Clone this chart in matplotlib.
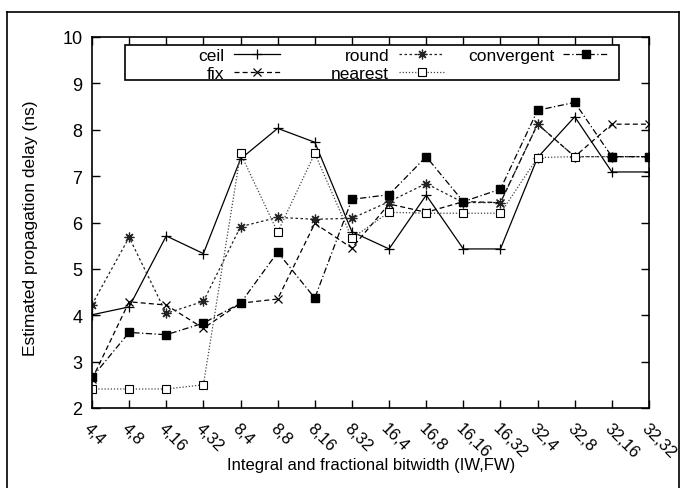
import matplotlib
matplotlib.use('Agg')
import matplotlib.pyplot as plt
from matplotlib.lines import Line2D
from matplotlib.patches import Rectangle

plt.rcParams['font.family'] = ['Liberation Sans', 'DejaVu Sans']

# IW,FW combinations on the x axis
cats = ['4,4', '4,8', '4,16', '4,32', '8,4', '8,8', '8,16', '8,32',
        '16,4', '16,8', '16,16', '16,32', '32,4', '32,8', '32,16', '32,32']

ceil_v    = [4.01, 4.18, 5.71, 5.33, 7.37, 8.03, 7.73, 5.80, 5.43, 6.59, 5.43, 5.43, 7.40, 8.28, 7.09, 7.09]
fix_v     = [2.62, 4.29, 4.22, 3.72, 4.26, 4.35, 5.98, 5.45, 6.40, 6.22, 6.45, 6.43, 8.12, 7.42, 8.12, 8.12]
round_v   = [4.23, 5.68, 4.04, 4.30, 5.91, 6.11, 6.07, 6.09, 6.45, 6.84, 6.43, 6.43, 8.12, 7.42, 7.42, 7.42]
nearest_v = [2.41, 2.41, 2.41, 2.50, 7.49, 5.79, 7.49, 5.66, 6.22, 6.20, 6.20, 6.20, 7.40, 7.42, 7.42, 7.42]
conv_v    = [2.66, 3.63, 3.58, 3.83, 4.26, 5.36, 4.37, 6.50, 6.60, 7.42, 6.45, 6.72, 8.42, 8.59, 7.42, 7.42]

W, H = 681, 489
fig = plt.figure(figsize=(W / 100, H / 100), dpi=100)
# axes box: x 92..649 px, y 38..409 px
ax = fig.add_axes([92 / W, 1 - 409 / H, 557 / W, 371 / H])

def axfrac(px, py):
    # pixel position in the picture -> axes fraction
    return (px - 92) / 557, (409 - py) / 371

x = list(range(len(cats)))
lw = 0.9
styles = {
    'ceil':       dict(color='black', lw=lw, ls='-', marker='+', ms=7, mew=0.9),
    'fix':        dict(color='black', lw=lw, ls=(0, (4, 2.5)), marker='x', ms=5.5, mew=0.9),
    'round':      dict(color='#222222', lw=lw, ls=(0, (2, 2)), marker=(8, 2, 0), ms=7, mew=0.9),
    'nearest':    dict(color='#444444', lw=lw, ls=(0, (1, 1.5)), marker='s', ms=5.5, mfc='white',
                       mec='black', mew=0.8),
    'convergent': dict(color='black', lw=lw, ls=(0, (5, 2, 1, 2)), marker='s', ms=5.5, mfc='black',
                       mec='black'),
}
series = {'ceil': ceil_v, 'fix': fix_v, 'round': round_v, 'nearest': nearest_v, 'convergent': conv_v}
for name, vals in series.items():
    ax.plot(x, vals, **styles[name])

ax.set_xlim(0, 15)
ax.set_ylim(2, 10)
ax.set_xticks(x)
ax.set_xticklabels(cats, rotation=-45, ha='left', va='top', rotation_mode='anchor', fontsize=12)
ax.set_yticks(range(2, 11))
ax.tick_params(axis='y', labelsize=13)
ax.tick_params(direction='in', length=6, width=1, top=True, right=True, pad=7)
ax.tick_params(axis='x', pad=9)
for s in ax.spines.values():
    s.set_linewidth(1.2)

ax.set_xlabel('Integral and fractional bitwidth (IW,FW)', fontsize=12, va='center')
ax.xaxis.set_label_coords(*axfrac(371, 466))
ax.set_ylabel('Estimated propagation delay (ns)', fontsize=12.5, va='center')
ax.yaxis.set_label_coords(*axfrac(31, 228))

# gnuplot style key: right aligned text, then line sample
x0, y0 = axfrac(125, 81)
x1, y1 = axfrac(619, 46)
ax.add_patch(Rectangle((x0, y0), x1 - x0, y1 - y0, transform=ax.transAxes, facecolor='white',
                       edgecolor='black', lw=1.2, zorder=5))
key = [('ceil', 224, 234, 280, 55), ('fix', 224, 234, 280, 73),
       ('round', 389, 399, 444, 55), ('nearest', 389, 399, 444, 73),
       ('convergent', 554, 563, 609, 55)]
for name, tx, sx0, sx1, py in key:
    ax.text(*axfrac(tx, py), name, transform=ax.transAxes, ha='right', va='center_baseline',
            fontsize=12.5, zorder=6)
    st = dict(styles[name])
    ax.add_line(Line2D([axfrac(sx0, py)[0], axfrac(sx1, py)[0]], [axfrac(sx0, py)[1]] * 2,
                       transform=ax.transAxes, zorder=6, markevery=[], **st))
    m = {k: v for k, v in st.items() if k not in ('ls', 'lw')}
    ax.add_line(Line2D([axfrac((sx0 + sx1) / 2, py)[0]], [axfrac(sx0, py)[1]],
                       transform=ax.transAxes, zorder=7, ls='none', **m))

# outer frame of the figure
for xs, ys in [([7 / W, 7 / W], [0, 1 - 13 / H]),
               ([7 / W, 679 / W], [1 - 13 / H, 1 - 13 / H]),
               ([679 / W, 679 / W], [0, 1 - 13 / H])]:
    fig.add_artist(Line2D(xs, ys, color='black', lw=1.2, transform=fig.transFigure))

fig.savefig('out.png', dpi=100)
